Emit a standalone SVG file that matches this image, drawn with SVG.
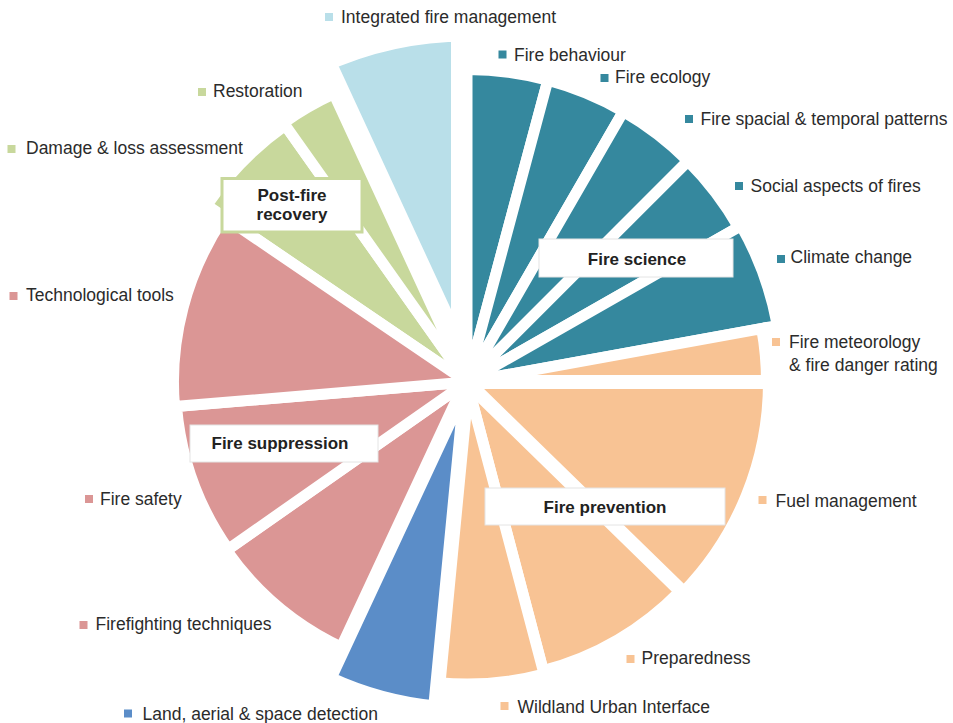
<svg xmlns="http://www.w3.org/2000/svg" width="953" height="723" viewBox="0 0 953 723">
<style>
.s{stroke:#fff;stroke-width:11;stroke-linejoin:miter}
.teal{fill:#35889E}.lb{fill:#B9DFE9}.or{fill:#F8C394}.bl{fill:#5B8DC8}.pk{fill:#DB9695}.gr{fill:#C8D89C}
.lg{font-family:"Liberation Sans",Arial,sans-serif;font-size:17.5px;fill:#2b2b2b}
.bx{fill:#fff;stroke:#e4e4e4;stroke-width:1}
.bt{font-family:"Liberation Sans",Arial,sans-serif;font-size:17px;font-weight:bold;fill:#222;text-anchor:middle}
</style>
<rect width="953" height="723" fill="#fff"/>
<g id="integrated-fire-management">
<path class="lb s" style="stroke-width:32" d="M467 382 L317.5 58.4 A356.5 356.5 0 0 1 467 25.5 Z"/>
<rect class="lb" x="325" y="13" width="8" height="8"/><text class="lg" x="341" y="23">Integrated fire management</text>
</g>
<g id="fire-behaviour">
<path class="teal s" d="M467 382 L467 69.5 A312.5 312.5 0 0 1 547.9 80.2 Z"/>
<rect class="teal" x="498.5" y="50.5" width="8" height="8"/><text class="lg" x="514" y="60.5">Fire behaviour</text>
</g>
<g id="fire-ecology">
<path class="teal s" d="M467 382 L547.9 80.2 A312.5 312.5 0 0 1 623.3 111.4 Z"/>
<rect class="teal" x="600.5" y="74" width="8" height="8"/><text class="lg" x="615" y="83.3">Fire ecology</text>
</g>
<g id="fire-spacial-temporal-patterns">
<path class="teal s" d="M467 382 L623.3 111.4 A312.5 312.5 0 0 1 688 161 Z"/>
<rect class="teal" x="685" y="115" width="8" height="8"/><text class="lg" x="700.5" y="125">Fire spacial &amp; temporal patterns</text>
</g>
<g id="social-aspects">
<path class="teal s" d="M467 382 L688 161 A312.5 312.5 0 0 1 738.5 227.2 Z"/>
<rect class="teal" x="735" y="182" width="8" height="8"/><text class="lg" x="750.5" y="191.7">Social aspects of fires</text>
</g>
<g id="climate-change">
<path class="teal s" d="M467 382 L741.1 225.7 A315.5 315.5 0 0 1 777.4 325.6 Z"/>
<rect class="teal" x="777" y="255" width="8" height="8"/><text class="lg" x="790.5" y="263.3">Climate change</text>
</g>
<g id="damage-loss-assessment">
<path class="gr s" d="M467 382 L206.9 205.2 A314.5 314.5 0 0 1 285.3 125.3 Z"/>
<rect class="gr" x="7.5" y="145" width="8" height="8"/><text class="lg" x="26" y="154">Damage &amp; loss assessment</text>
</g>
<g id="restoration">
<path class="gr s" d="M467 382 L283.5 122.9 A317.5 317.5 0 0 1 333.8 93.8 Z"/>
<rect class="gr" x="198" y="88" width="8" height="8"/><text class="lg" x="213" y="96.7">Restoration</text>
</g>
<g id="firefighting-techniques">
<path class="pk s" d="M467 382 L343 648 A293.5 293.5 0 0 1 226.6 550.4 Z"/>
<rect class="pk" x="79.5" y="621" width="8" height="8"/><text class="lg" x="95.5" y="630">Firefighting techniques</text>
</g>
<g id="fire-safety">
<path class="pk s" d="M467 382 L228.2 549.2 A291.5 291.5 0 0 1 176.5 406.4 Z"/>
<rect class="pk" x="85" y="495" width="8" height="8"/><text class="lg" x="100" y="505">Fire safety</text>
</g>
<g id="technological-tools">
<path class="pk s" d="M467 382 L174.5 406.6 A293.5 293.5 0 0 1 224.3 217 Z"/>
<rect class="pk" x="9.5" y="292" width="8" height="8"/><text class="lg" x="26" y="300.7">Technological tools</text>
</g>
<g id="fire-meteorology">
<path class="or s" d="M467 382 L761.7 328.5 A299.5 299.5 0 0 1 766.5 382 Z"/>
<rect class="or" x="772" y="338" width="8" height="8"/><text class="lg" x="789" y="348.3">Fire meteorology</text><text class="lg" x="789" y="370.7">&amp; fire danger rating</text>
</g>
<g id="preparedness">
<path class="or s" d="M467 382 L680.6 590.5 A298.5 298.5 0 0 1 543.3 670.6 Z"/>
<rect class="or" x="626.5" y="655" width="8" height="8"/><text class="lg" x="641.5" y="664">Preparedness</text>
</g>
<g id="wildland-urban-interface">
<path class="or s" d="M467 382 L544.1 674 A302 302 0 0 1 438.1 682.6 Z"/>
<rect class="or" x="500.5" y="702" width="8" height="8"/><text class="lg" x="517.5" y="713.3">Wildland Urban Interface</text>
</g>
<g id="fuel-management">
<path class="or s" style="stroke-width:14" d="M467 382 L770 382 A303 303 0 0 1 683.9 593.6 Z"/>
<rect class="or" x="758.5" y="496" width="8" height="8"/><text class="lg" x="775.5" y="506.7">Fuel management</text>
</g>
<g id="land-aerial-space-detection">
<path class="bl s" style="stroke-width:15" d="M467 382 L435.6 708 A327.5 327.5 0 0 1 328.6 678.8 Z"/>
<rect class="bl" x="124" y="709.5" width="8" height="8"/><text class="lg" x="142.5" y="720">Land, aerial &amp; space detection</text>
</g>
<g id="fire-science">
<rect class="bx" x="539" y="239" width="194" height="38"/><text class="bt" x="637" y="265">Fire science</text>
</g>
<g id="fire-prevention">
<rect class="bx" x="485" y="488" width="240" height="37"/><text class="bt" x="605" y="512.5">Fire prevention</text>
</g>
<g id="fire-suppression">
<rect class="bx" x="190" y="425" width="188" height="37"/><text class="bt" x="280" y="448.5">Fire suppression</text>
</g>
<g id="post-fire-recovery">
<rect x="222" y="178.5" width="140" height="53.5" fill="#fff" stroke="#C8D89C" stroke-width="3"/><text class="bt" x="292" y="201">Post-fire</text><text class="bt" x="292" y="220">recovery</text>
</g>
</svg>
